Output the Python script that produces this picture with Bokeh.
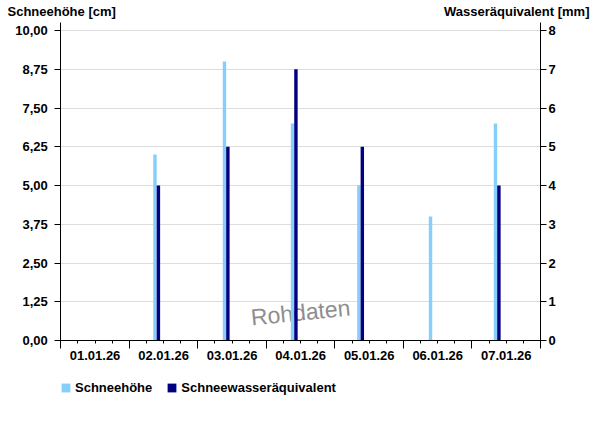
import pandas as pd
from bokeh.plotting import figure
from bokeh.models import (Range1d, LinearAxis, FixedTicker, CustomJSTickFormatter,
                          Legend, LegendItem, Label, ColumnDataSource)
from bokeh.embed import file_html
from bokeh.resources import INLINE

# ---- data ----
dates = ["02.01.26", "03.01.26", "04.01.26", "05.01.26", "06.01.26", "07.01.26"]
obs_times = ["09:35", "09:55", "09:45", "09:00", "10:05", "08:50"]
schneehoehe = [6, 9, 7, 5, 4, 7]                       # cm
wasseraequivalent = [4, 5, 7, 5, float("nan"), 4]      # mm
tick_labels = ["01.01.26", "02.01.26", "03.01.26", "04.01.26", "05.01.26", "06.01.26", "07.01.26"]
start_date = "01.01.26"
left_ticks = [0, 1.25, 2.5, 3.75, 5, 6.25, 7.5, 8.75, 10]
right_ticks = [0, 1, 2, 3, 4, 5, 6, 7, 8]

FONT = "Liberation Sans"
LIGHT = "#87CEFA"
DARK = "#000080"
W, H = 600, 426

t0 = pd.to_datetime(start_date, format="%d.%m.%y")
times = pd.to_datetime([f"{d} {t}" for d, t in zip(dates, obs_times)], format="%d.%m.%y %H:%M")
x = [(t - t0) / pd.Timedelta("1D") for t in times]
bw = 1.2 / 24.0
n_days = len(tick_labels)
ratio = 1.25          # left axis units per right axis unit
y_top = 10.26         # top of the axis lines (left units)

# plotting frame covers whole canvas; data area: x 60.3..540, y(0)=340, y(10)=30
px_day = (540 - 60.3) / n_days
px_unit = (340 - 30) / 10.0
xr = Range1d(-60.3 / px_day, (W - 60.3) / px_day)
yr_left = Range1d(-(H - 340) / px_unit, 340 / px_unit)

src = ColumnDataSource(dict(
    x_light=[v - bw / 2 for v in x],
    x_dark=[v + bw / 2 for v in x],
    sh=schneehoehe,
    wa=wasseraequivalent,
))

p = figure(width=W, height=H, output_backend="svg", toolbar_location=None,
           x_range=xr, y_range=yr_left, title_location=None, min_border=0,
           min_border_left=0, min_border_right=0, min_border_top=0, min_border_bottom=0)
p.extra_y_ranges = {"right": Range1d(yr_left.start / ratio, yr_left.end / ratio)}
p.outline_line_color = None
p.background_fill_color = "white"
p.border_fill_color = "white"

# watermark (below the bars)
p.add_layout(Label(x=300, y=H - 312, x_units="screen", y_units="screen", text="Rohdaten",
                   text_font=FONT, text_font_size="23px", text_color="#8e8e8e",
                   text_align="center", text_baseline="middle", angle=0.1, level="underlay"))

r_light = p.vbar(x="x_light", top="sh", width=bw, source=src, fill_color=LIGHT, line_color=None)
r_dark = p.vbar(x="x_dark", top="wa", width=bw, source=src, fill_color=DARK, line_color=None,
                y_range_name="right")

# left axis
ya = p.yaxis[0]
ya.fixed_location = 0
ya.bounds = (0, y_top)
ya.ticker = FixedTicker(ticks=left_ticks, minor_ticks=[])
ya.formatter = CustomJSTickFormatter(code="return tick.toFixed(2).replace('.', ',');")
ya.major_tick_out = 6
ya.major_tick_in = 0
ya.major_label_standoff = 7

# right axis
yax = LinearAxis(y_range_name="right", ticker=FixedTicker(ticks=right_ticks, minor_ticks=[]))
yax.fixed_location = n_days
yax.bounds = (0, y_top / ratio)
yax.major_tick_out = 6
yax.major_tick_in = 0
yax.major_label_standoff = 2
p.add_layout(yax, "right")

# x axis with day boundaries and quarter-day minor ticks (no labels)
xa = p.xaxis[0]
xa.fixed_location = 0
xa.bounds = (0, n_days)
xa.ticker = FixedTicker(ticks=list(range(n_days + 1)),
                        minor_ticks=[i / 4 for i in range(4 * n_days + 1)])
xa.formatter = CustomJSTickFormatter(code="return '';")
xa.major_tick_out = 8
xa.major_tick_in = 0
xa.minor_tick_out = 3
xa.minor_tick_in = 0
xa.major_label_standoff = 0

# x label axis (labels centred in each day)
xb = LinearAxis(ticker=FixedTicker(ticks=[i + 0.5 for i in range(n_days)], minor_ticks=[]),
                formatter=CustomJSTickFormatter(args=dict(labels=tick_labels),
                                                code="return labels[Math.floor(tick)];"))
xb.fixed_location = 0
xb.bounds = (0, n_days)
xb.axis_line_color = None
xb.major_tick_line_color = None
xb.minor_tick_line_color = None
xb.major_tick_out = 0
xb.major_tick_in = 0
xb.major_label_standoff = 10
p.add_layout(xb, "below")

for ax in [ya, yax, xa, xb]:
    ax.major_label_text_font = FONT
    ax.major_label_text_font_style = "bold"
    ax.major_label_text_font_size = "13px"
    ax.major_label_text_color = "black"
    ax.axis_line_width = 1
    ax.major_tick_line_width = 1

p.xgrid.grid_line_color = None
p.ygrid.ticker = FixedTicker(ticks=left_ticks)
p.ygrid.cross_bounds = (0, n_days)
p.ygrid.grid_line_color = "#dddddd"
p.ygrid.grid_line_width = 1

# titles
p.add_layout(Label(x=7, y=H - 3, x_units="screen", y_units="screen", text="Schneehöhe [cm]",
                   text_font=FONT, text_font_style="bold", text_font_size="13px",
                   text_align="left", text_baseline="top", text_color="black"))
p.add_layout(Label(x=589, y=H - 3, x_units="screen", y_units="screen", text="Wasseräquivalent [mm]",
                   text_font=FONT, text_font_style="bold", text_font_size="13px",
                   text_align="right", text_baseline="top", text_color="black"))

legend = Legend(items=[LegendItem(label="Schneehöhe", renderers=[r_light]),
                       LegendItem(label="Schneewasseräquivalent", renderers=[r_dark])],
                orientation="horizontal", location=(60, H - 395))
legend.glyph_width = 11
legend.glyph_height = 11
legend.label_height = 11
legend.label_text_font = FONT
legend.label_text_font_style = "bold"
legend.label_text_font_size = "13px"
legend.label_text_color = "black"
legend.label_standoff = 4
legend.spacing = 14
legend.padding = 0
legend.margin = 0
legend.border_line_color = None
legend.background_fill_alpha = 0
p.add_layout(legend)

open("out.html", "w").write(file_html(p, INLINE))
